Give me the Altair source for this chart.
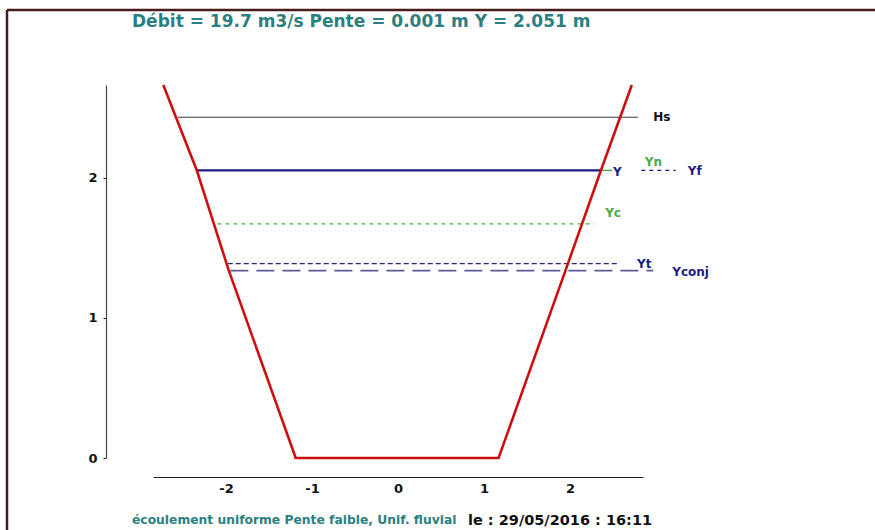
import altair as alt
import pandas as pd

# Channel cross-section (bank profile): left top -> bed -> right top
section_x = [-2.73, -2.34, -1.97, -1.19, 1.17, 1.95, 2.36, 2.72]
section_y = [2.66, 2.05, 1.34, 0.0, 0.0, 1.34, 2.05, 2.66]

# Characteristic water levels (m) and horizontal extent of each line
level_names = ["Hs", "Y", "Yn", "Yc", "Yt", "Yconj", "Yf"]
level_y = [2.43, 2.051, 2.051, 1.67, 1.386, 1.336, 2.051]
level_x1 = [-2.56, -2.34, 2.36, -2.10, -1.98, -1.95, 2.83]
level_x2 = [2.79, 2.36, 2.49, 2.28, 2.58, 2.97, 3.23]

# Label anchors for each level name
label_x = [2.97, 2.50, 2.87, 2.41, 2.78, 3.19, 3.37]
label_y = [2.43, 2.04, 2.11, 1.75, 1.385, 1.33, 2.045]

x_ticks = [-2, -1, 0, 1, 2]
y_ticks = [0, 1, 2]

title_text = "Débit = 19.7 m3/s Pente = 0.001 m Y = 2.051 m"
footer_text = "écoulement uniforme Pente faible, Unif. fluvial"
date_text = "le : 29/05/2016 : 16:11"

NAVY = "#1c1c84"
GREEN = "#46ad46"
TEAL = "#2b7f80"
FONT = "DejaVu Sans"

xs = alt.Scale(domain=[-2.85, 2.85], nice=False, zero=False)
ys = alt.Scale(domain=[0, 2.66], nice=False, zero=False)
x_axis = alt.Axis(values=x_ticks, labelExpr="toString(datum.value)", offset=19, tickSize=0,
                  labelPadding=5, labelFont=FONT, labelFontSize=13, labelFontWeight="bold",
                  labelColor="#111", domainColor="#222", domainWidth=1.2,
                  grid=False, title=None)
y_axis = alt.Axis(values=y_ticks, labelExpr="toString(datum.value)", offset=47, tickSize=3,
                  labelPadding=6, labelFont=FONT, labelFontSize=13, labelFontWeight="bold",
                  labelColor="#111", domainColor="#444", tickColor="#222",
                  domainWidth=1.2, grid=False, title=None)

section = pd.DataFrame({"x": section_x, "y": section_y, "i": range(len(section_x))})
levels = pd.DataFrame({"name": level_names, "y": level_y, "x1": level_x1, "x2": level_x2})
labels = pd.DataFrame({"name": level_names, "x": label_x, "y": label_y})

bank = alt.Chart(section).mark_line(color="#cc1010", strokeWidth=2.6).encode(
    x=alt.X("x:Q", scale=xs, axis=x_axis),
    y=alt.Y("y:Q", scale=ys, axis=y_axis),
    order="i:Q",
)


def level_line(name, color, width, dash=None):
    kw = dict(color=color, strokeWidth=width)
    if dash:
        kw["strokeDash"] = dash
    return alt.Chart(levels).transform_filter(alt.datum.name == name).mark_rule(**kw).encode(
        x=alt.X("x1:Q", scale=xs, axis=x_axis),
        x2="x2:Q",
        y=alt.Y("y:Q", scale=ys, axis=y_axis),
    )


lines = [
    level_line("Hs", "#3a3a3a", 1.2),
    level_line("Yc", GREEN, 1.2, [4, 4]),
    level_line("Yt", "#26267e", 1.2, [5, 3]),
    level_line("Yconj", "#5c5c94", 1.6, [18, 8]),
    level_line("Y", NAVY, 2.2),
    level_line("Yn", GREEN, 1.4),
    level_line("Yf", NAVY, 1.2, [4, 4]),
]

label_colors = {"Hs": "#111111", "Y": NAVY, "Yn": GREEN, "Yc": GREEN,
                "Yt": NAVY, "Yconj": NAVY, "Yf": NAVY}
labels["color"] = labels["name"].map(label_colors)

label_layer = alt.Chart(labels).mark_text(
    align="left", baseline="middle", font=FONT, fontSize=12, fontWeight="bold"
).encode(
    x=alt.X("x:Q", scale=xs, axis=x_axis),
    y=alt.Y("y:Q", scale=ys, axis=y_axis),
    text="name:N",
    color=alt.Color("color:N", scale=None),
)

# Header, footer and frame
header = alt.Chart(pd.DataFrame({"t": [title_text]})).mark_text(
    align="left", baseline="middle", font=FONT, fontSize=17, fontWeight="bold", color=TEAL
).encode(x=alt.value(-21), y=alt.value(-63), text="t:N")

footer = alt.Chart(pd.DataFrame({"t": [footer_text]})).mark_text(
    align="left", baseline="middle", font=FONT, fontSize=12.3, fontWeight="bold", color=TEAL
).encode(x=alt.value(-21), y=alt.value(435), text="t:N")

date = alt.Chart(pd.DataFrame({"t": [date_text]})).mark_text(
    align="left", baseline="middle", font=FONT, fontSize=14.5, fontWeight="bold", color="#111"
).encode(x=alt.value(315), y=alt.value(436), text="t:N")

frame_src = pd.DataFrame({"k": [0]})
frame_top = alt.Chart(frame_src).mark_rule(color="#4a1c1c", strokeWidth=2.5).encode(
    x=alt.value(-146), x2=alt.value(722), y=alt.value(-75))
frame_left = alt.Chart(frame_src).mark_rule(color="#4a1c1c", strokeWidth=2.5).encode(
    x=alt.value(-146), y=alt.value(-75), y2=alt.value(445))

chart = alt.layer(
    frame_top, frame_left, *lines, bank, label_layer, header, footer, date
).properties(
    width=490,
    height=373,
    autosize=alt.AutoSizeParams(type="none"),
    padding={"left": 153, "top": 85, "right": 232, "bottom": 72},
    background="white",
).configure_view(stroke=None)

chart.save("out.html", embed_options={"renderer": "svg", "actions": False})
